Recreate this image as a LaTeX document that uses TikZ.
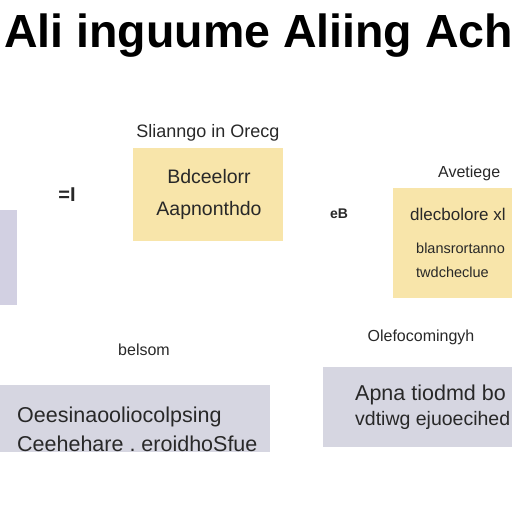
\documentclass[tikz,border=0pt]{standalone}
\usepackage{fontspec}
\setmainfont{Liberation Sans}
\usepackage{xcolor}
\usepackage{tikz}
\usetikzlibrary{positioning}

\definecolor{paleyellow}{RGB}{248,229,170}
\definecolor{palelilac}{RGB}{210,208,226}
\definecolor{palegrey}{RGB}{214,214,225}
\definecolor{inkgrey}{RGB}{40,40,40}

\begin{document}
\begin{tikzpicture}[x=1pt, y=-1pt,
    ybox/.style={rectangle, fill=paleyellow, inner sep=0pt},
    gbox/.style={rectangle, fill=palegrey, inner sep=0pt},
    lbox/.style={rectangle, fill=palelilac, inner sep=0pt},
    boxtext/.style={inner sep=0pt, text=inkgrey, font=\fontsize{19.5}{27}\selectfont},
    bigtext/.style={inner sep=0pt, text=inkgrey, font=\fontsize{21.5}{27}\selectfont},
    tag/.style={inner sep=0pt, text=inkgrey, font=\fontsize{16}{18}\selectfont},
    node distance=8pt]
        \useasboundingbox (0,0) rectangle (512,512);
        % title
        \node[inner sep=0pt, anchor=base west, font=\fontsize{46.5}{52}\bfseries\selectfont] (title) at (4,47) {Ali inguume Aliing Ach};

        % boxes
        \node[ybox, minimum width=150pt, minimum height=93pt] (steps) at (208,194.5) {};
        \node[lbox, minimum width=114pt, minimum height=95pt] (side) at (-40,257.5) {};
        \node[ybox, minimum width=170pt, minimum height=110pt] (avg) at (478,243) {};
        \node[gbox, minimum width=290pt, minimum height=67pt] (cases) at (125,418.5) {};
        \node[gbox, minimum width=240pt, minimum height=80pt] (apna) at (443,407) {};

        % box texts
        \node[boxtext, align=center] (steps_t) at (209,194) {Bdceelorr\\[5pt]Aapnonthdo};
        \node[boxtext, anchor=west, font=\fontsize{17}{20}\selectfont] (avg_1) at (410,214) {dlecbolore xl};
        \node[boxtext, anchor=west, font=\fontsize{14.5}{17}\selectfont] (avg_2) at (416,248) {blansrortanno};
        \node[boxtext, anchor=west, font=\fontsize{14.5}{17}\selectfont] (avg_3) at (416,272) {twdcheclue};
        \node[bigtext, anchor=west] (cases_1) at (17,417) {Oeesinaooliocolpsing};
        \node[bigtext, anchor=west] (cases_2) at (17,444) {Ceehehare .\ eroidhoSfue};
        \node[bigtext, anchor=west] (apna_1) at (355,395) {Apna tiodmd bo};
        \node[bigtext, anchor=west, font=\fontsize{19.5}{24}\selectfont] (apna_2) at (355,420) {vdtiwg ejuoecihed};

        % labels
        \node[tag, font=\fontsize{18}{20}\selectfont] (steps_l) [above = 6pt of steps] {Slianngo in Orecg};
        \node[tag, anchor=west] (avg_l) at (438,173) {Avetiege};
        \node[tag] (cases_l) at (144,350) {belsom};
        \node[tag] (apna_l) at (421,337) {Olefocomingyh};

        % marks
        \node[tag, font=\bfseries\fontsize{20}{22}\selectfont] (mark_a) at (67,195) {=I};
        \node[tag, font=\bfseries\fontsize{14}{16}\selectfont] (mark_b) at (339,214) {eB};
    \end{tikzpicture}
\end{document}
